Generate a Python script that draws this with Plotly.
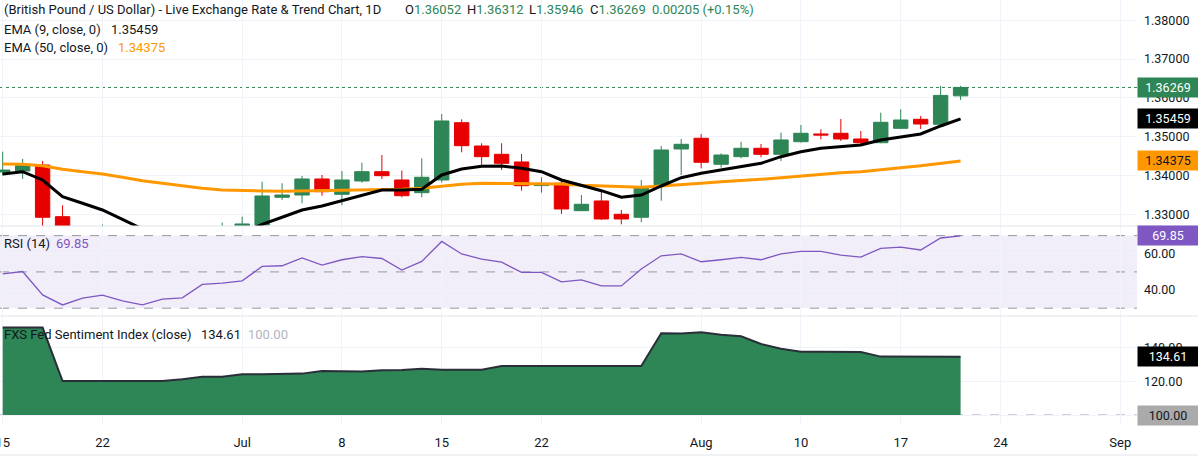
import pandas as pd
import plotly.graph_objects as go
from plotly.subplots import make_subplots

# ---------------- data ----------------
dates = pd.bdate_range("2026-06-15", "2026-08-20").strftime("%Y-%m-%d").tolist()
axis_days = pd.bdate_range("2026-06-15", "2026-09-02").strftime("%Y-%m-%d").tolist()

opens = [1.3409, 1.34116, 1.34271, 1.32938, 1.3225, 1.3240, 1.3250, 1.3232, 1.3215, 1.3238,
         1.3242, 1.3260, 1.3264, 1.32724, 1.33438, 1.33497, 1.3391, 1.33515, 1.33858, 1.34098,
         1.33884, 1.33557, 1.33884, 1.35361, 1.3476, 1.34546, 1.34348, 1.3374, 1.33799, 1.33093,
         1.33343, 1.3300, 1.32923, 1.33737, 1.34683, 1.34959, 1.34289, 1.34485, 1.34701, 1.34546,
         1.34871, 1.3507, 1.35088, 1.34941, 1.34845, 1.35216, 1.35448, 1.3532, 1.36052]
highs = [1.34613, 1.34425, 1.34374, 1.33232, 1.3258, 1.32737, 1.3262, 1.3245, 1.3250, 1.3256,
         1.3265, 1.32784, 1.32938, 1.3384, 1.3380, 1.33987, 1.34013, 1.34116, 1.3433, 1.34528,
         1.34124, 1.34443, 1.35585, 1.35448, 1.3483, 1.3483, 1.34554, 1.33954, 1.3391, 1.33497,
         1.33626, 1.33111, 1.33884, 1.3476, 1.34941, 1.3507, 1.34572, 1.34871, 1.34812, 1.35103,
         1.35302, 1.3519, 1.35456, 1.35147, 1.35619, 1.35706, 1.35534, 1.36307, 1.36312]
lows = [1.3400, 1.3391, 1.3255, 1.3212, 1.3215, 1.3228, 1.3220, 1.3200, 1.3208, 1.3226,
        1.3235, 1.3245, 1.3255, 1.3268, 1.3337, 1.33284, 1.33479, 1.33232, 1.33814, 1.3391,
        1.33438, 1.33438, 1.33814, 1.34598, 1.34253, 1.34142, 1.33608, 1.33557, 1.33008, 1.3308,
        1.32853, 1.32742, 1.32794, 1.3335, 1.34013, 1.34186, 1.34201, 1.34443, 1.34469, 1.34374,
        1.34845, 1.34933, 1.34889, 1.3476, 1.3483, 1.35198, 1.35198, 1.35258, 1.35946]
closes = [1.3414, 1.34253, 1.32923, 1.3225, 1.3240, 1.3250, 1.3232, 1.3215, 1.3238, 1.3242,
          1.3260, 1.3264, 1.3275, 1.33472, 1.33497, 1.3391, 1.33582, 1.33884, 1.34098, 1.33995,
          1.33479, 1.33954, 1.35405, 1.34768, 1.34485, 1.34314, 1.33737, 1.3376, 1.33137, 1.33258,
          1.32879, 1.32879, 1.33711, 1.34657, 1.34804, 1.3434, 1.34528, 1.34701, 1.34546, 1.34915,
          1.35088, 1.35044, 1.34941, 1.34845, 1.35371, 1.3543, 1.35327, 1.36064, 1.36269]

ema9 = [1.34039, 1.34098, 1.33884, 1.33454, 1.33284, 1.33111, 1.32871, 1.3262, 1.3252, 1.3246,
        1.3244, 1.3246, 1.3252, 1.32742, 1.32923, 1.33111, 1.33214, 1.33351, 1.33497, 1.33626,
        1.33626, 1.33644, 1.34013, 1.34168, 1.34237, 1.34245, 1.34186, 1.34098, 1.33884, 1.33755,
        1.33608, 1.33438, 1.33497, 1.33729, 1.33943, 1.34057, 1.34142, 1.34245, 1.34314, 1.34485,
        1.34613, 1.34701, 1.34742, 1.34786, 1.34915, 1.35000, 1.35070, 1.35276, 1.35459]
ema50 = [1.34296, 1.34289, 1.34253, 1.34160, 1.34098, 1.34039, 1.33954, 1.33866, 1.33799, 1.33729,
         1.33670, 1.33626, 1.33608, 1.33600, 1.33593, 1.33600, 1.33608, 1.33619, 1.33626, 1.33644,
         1.33644, 1.33670, 1.33729, 1.33773, 1.33799, 1.33799, 1.33799, 1.33799, 1.33781, 1.33747,
         1.33729, 1.33696, 1.33696, 1.33729, 1.33755, 1.33799, 1.33840, 1.33866, 1.33902, 1.33943,
         1.33987, 1.34031, 1.34072, 1.34098, 1.34142, 1.34200, 1.34250, 1.34310, 1.34375]

rsi = [48.9, 50.2, 37.3, 31.8, 35.5, 37.2, 34.0, 31.8, 35.0, 35.7,
       43.1, 43.8, 45.1, 53.0, 53.4, 57.7, 53.8, 56.7, 58.4, 57.4,
       51.0, 55.8, 66.8, 59.9, 57.1, 55.4, 49.7, 49.7, 44.5, 45.6,
       42.3, 42.3, 51.6, 58.9, 59.9, 55.6, 56.7, 58.0, 56.7, 59.9,
       61.3, 61.3, 59.3, 58.2, 63.0, 63.7, 62.1, 68.7, 69.85]

sentiment = [151.9, 151.9, 151.9, 120.2, 120.2, 120.2, 120.2, 120.2, 120.2, 121.2,
             122.8, 122.8, 124.2, 124.2, 124.6, 124.6, 126.2, 125.8, 125.8, 126.6,
             126.7, 127.5, 126.9, 126.9, 126.9, 129.1, 129.1, 129.1, 129.1, 129.1,
             129.1, 129.1, 129.1, 148.5, 148.4, 149.1, 147.7, 146.8, 142.2, 139.4,
             137.6, 137.6, 137.4, 137.4, 134.7, 134.7, 134.7, 134.7, 134.61]
sentiment_base = 100.0

tick_dates = ["2026-06-15", "2026-06-22", "2026-07-01", "2026-07-08", "2026-07-15", "2026-07-22",
              "2026-08-03", "2026-08-10", "2026-08-17", "2026-08-24", "2026-09-01"]
tick_text = ["15", "22", "Jul", "8", "15", "22", "Aug", "10", "17", "24", "Sep"]

price_ticks = [1.33, 1.34, 1.35, 1.36, 1.37, 1.38]
rsi_ticks = [40, 60]
rsi_bands = [30, 50, 70]
sent_ticks = [100, 120, 140]

last_price = closes[-1]
change = closes[-1] - closes[-2]
change_pct = change / closes[-2] * 100

# ---------------- style ----------------
W, H = 1198, 458
ML, MR, MT, MB = 0, 61, 0, 33
PW, PH = W - ML - MR, H - MT - MB
FONT = "Roboto"
TXT = "#131722"
GREEN = "#2e8555"
RED = "#e60000"
ORANGE = "#ff9800"
PURPLE = "#7e57c2"
GRID = "#f0f3fa"
SEP = "#e0e3eb"
AXFS = 12.5

fig = make_subplots(rows=3, cols=1, shared_xaxes=True, vertical_spacing=0)

fig.add_trace(go.Candlestick(
    x=dates, open=opens, high=highs, low=lows, close=closes,
    increasing=dict(line=dict(color=GREEN, width=1), fillcolor=GREEN),
    decreasing=dict(line=dict(color=RED, width=1), fillcolor=RED),
    whiskerwidth=0, showlegend=False, hoverinfo="skip"), row=1, col=1)
fig.add_trace(go.Scatter(x=dates, y=ema50, mode="lines", line=dict(color=ORANGE, width=3),
                         showlegend=False, hoverinfo="skip"), row=1, col=1)
fig.add_trace(go.Scatter(x=dates, y=ema9, mode="lines", line=dict(color="#000000", width=3),
                         showlegend=False, hoverinfo="skip"), row=1, col=1)

fig.add_trace(go.Scatter(x=dates, y=rsi, mode="lines", line=dict(color=PURPLE, width=1.3),
                         showlegend=False, hoverinfo="skip"), row=2, col=1)

fig.add_trace(go.Scatter(x=dates, y=[sentiment_base] * len(dates), mode="lines",
                         line=dict(width=0, color=GREEN), showlegend=False, hoverinfo="skip"), row=3, col=1)
fig.add_trace(go.Scatter(x=dates, y=sentiment, mode="lines", fill="tonexty", fillcolor=GREEN,
                         line=dict(color="#2a2e39", width=2), showlegend=False, hoverinfo="skip"),
              row=3, col=1)

d1 = 1 - 226 / PH
d2 = 1 - 316 / PH
xrng = [-0.135, 56.84]
fig.update_xaxes(type="category", categoryorder="array", categoryarray=axis_days, range=xrng,
                 tickmode="array", tickvals=tick_dates, ticktext=tick_text, automargin=False,
                 showgrid=True, gridcolor=GRID, gridwidth=1, zeroline=False, showline=False,
                 ticks="", rangeslider_visible=False, fixedrange=True, ticklabeloverflow="allow",
                 ticklabelstandoff=8,
                 tickfont=dict(size=13, color=TXT, family=FONT))
fig.update_xaxes(showticklabels=False, row=1, col=1)
fig.update_xaxes(showticklabels=False, row=2, col=1)
fig.update_xaxes(showticklabels=True, row=3, col=1)

common_y = dict(side="right", showgrid=True, gridcolor=GRID, gridwidth=1, zeroline=False,
                showline=False, ticks="", ticklabelstandoff=6, fixedrange=True, automargin=False,
                tickfont=dict(size=AXFS, color=TXT, family=FONT))
fig.update_yaxes(domain=[d1, 1], range=[1.32698, 1.38523], tickvals=price_ticks,
                 tickformat=".5f", row=1, col=1, **common_y)
fig.update_yaxes(domain=[d2, d1], range=[25.7, 75.3], tickvals=rsi_ticks,
                 tickformat=".2f", row=2, col=1, **common_y)
fig.update_yaxes(domain=[0, d2], range=[94.1, 158.8], tickvals=sent_ticks,
                 tickformat=".2f", row=3, col=1, **common_y)

shapes = []
shapes.append(dict(type="rect", xref="paper", x0=0, x1=1, yref="y2", y0=rsi_bands[0], y1=rsi_bands[2],
                   fillcolor="rgba(126,87,194,0.1)", line=dict(width=0), layer="below"))
for lv in rsi_bands:
    shapes.append(dict(type="line", xref="paper", x0=0, x1=1, yref="y2", y0=lv, y1=lv,
                       line=dict(color="#9598a1", width=1, dash="dash"), layer="between"))
shapes.append(dict(type="line", xref="paper", x0=0, x1=1, yref="y3", y0=sentiment_base, y1=sentiment_base,
                   line=dict(color="#9598a1", width=1, dash="dash"), layer="between"))
shapes.append(dict(type="line", xref="paper", x0=0, x1=1, yref="y", y0=last_price, y1=last_price,
                   line=dict(color=GREEN, width=1, dash="dot"), layer="between"))
for py in [226, 316, 455]:
    yy = 1 - py / PH
    shapes.append(dict(type="line", xref="paper", x0=0, x1=W / PW, yref="paper", y0=yy, y1=yy,
                       line=dict(color=SEP, width=1), layer="above"))


def ann(px, py, text, color=TXT, size=13):
    return dict(xref="paper", yref="paper", x=px / PW, y=1 - py / PH, xanchor="left",
                yanchor="middle", text=text, showarrow=False, borderpad=0,
                font=dict(color=color, size=size, family=FONT))


def badge(yref, yval, text, bg, fg):
    return dict(xref="paper", x=1, xanchor="left", yref=yref, y=yval, yanchor="middle",
                text=text, showarrow=False, bgcolor=bg, width=56, height=15, borderpad=2,
                align="center", font=dict(color=fg, size=AXFS, family=FONT))


anns = [
    ann(3, 9.5, "(British Pound / US Dollar) - Live Exchange Rate &amp; Trend Chart, 1D"),
    ann(404, 9.5, f"O<span style='color:{GREEN}'>{opens[-1]:.5f}</span>"),
    ann(466, 9.5, f"H<span style='color:{GREEN}'>{highs[-1]:.5f}</span>"),
    ann(528, 9.5, f"L<span style='color:{GREEN}'>{lows[-1]:.5f}</span>"),
    ann(589, 9.5, f"C<span style='color:{GREEN}'>{closes[-1]:.5f}</span>"),
    ann(651, 9.5, f"{change:.5f} (+{change_pct:.2f}%)", GREEN),
    ann(3, 29, "EMA (9, close, 0)"),
    ann(110, 29, f"{ema9[-1]:.5f}"),
    ann(3, 48, "EMA (50, close, 0)"),
    ann(117, 48, f"{ema50[-1]:.5f}", ORANGE),
    ann(3, 243.5, "RSI (14)"),
    ann(55, 243.5, f"{rsi[-1]:.2f}", PURPLE),
    ann(3, 334.5, "FXS Fed Sentiment Index (close)"),
    ann(200, 334.5, f"{sentiment[-1]:.2f}"),
    ann(247, 334.5, f"{sentiment_base:.2f}", "#b2b5be"),
    badge("y", last_price, f"{last_price:.5f}", GREEN, "#ffffff"),
    badge("y", ema9[-1], f"{ema9[-1]:.5f}", "#000000", "#ffffff"),
    badge("y", ema50[-1], f"{ema50[-1]:.5f}", ORANGE, TXT),
    badge("y2", rsi[-1], f"{rsi[-1]:.2f}", PURPLE, "#ffffff"),
    badge("y3", sentiment[-1], f"{sentiment[-1]:.2f}", "#000000", "#ffffff"),
    badge("y3", sentiment_base, f"{sentiment_base:.2f}", "#aaaaaa", TXT),
]

fig.update_layout(width=W, height=H, margin=dict(l=ML, r=MR, t=MT, b=MB, autoexpand=False),
                  paper_bgcolor="white", plot_bgcolor="white", showlegend=False,
                  boxgap=0.28, boxgroupgap=0, hovermode=False,
                  font=dict(family=FONT, color=TXT, size=13),
                  shapes=shapes, annotations=anns)

fig.write_html("out.html", config={"displayModeBar": False},
               post_script="document.body.style.margin='0';document.body.style.overflow='hidden';")
